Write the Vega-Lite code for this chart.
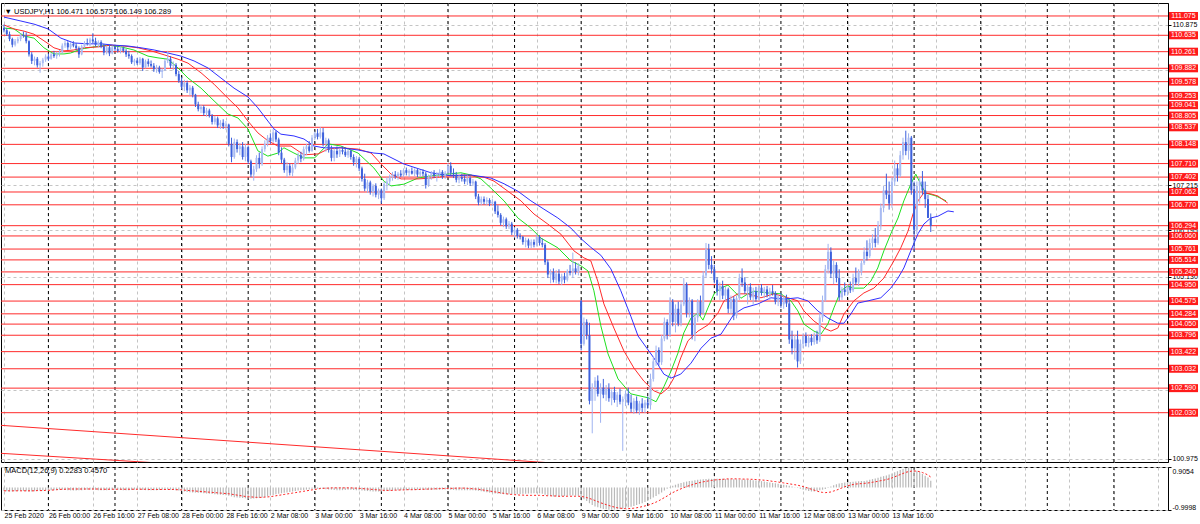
{
"$schema":"https://vega.github.io/schema/vega-lite/v6.json",
"padding":{"left":0,"top":2,"right":0,"bottom":0},
"background":"white",
"spacing":3,
"config":{
 "font":"Liberation Sans",
 "view":{"stroke":"#000","strokeWidth":1},
 "axis":{"title":null,"labelFont":"Liberation Sans","labelFontSize":7,"labelColor":"#000","domainColor":"#000","tickColor":"#000","gridColor":"#c4c4c4","gridDash":[3,3],"gridWidth":1},
 "title":{"font":"Liberation Sans","fontSize":7.5,"fontWeight":"normal","color":"#000"}
},
"datasets":{
"seps":[{"i":16},{"i":40},{"i":64},{"i":88},{"i":112},{"i":136},{"i":160},{"i":184},{"i":208},{"i":232},{"i":256},{"i":280},{"i":304},{"i":328},{"i":352},{"i":376},{"i":400}],
"levels":[{"v":111.075},{"v":110.635},{"v":110.261},{"v":109.882},{"v":109.578},{"v":109.253},{"v":109.041},{"v":108.805},{"v":108.537},{"v":108.148},{"v":107.71},{"v":107.402},{"v":107.062},{"v":106.77},{"v":106.294},{"v":106.06},{"v":105.761},{"v":105.514},{"v":105.24},{"v":104.95},{"v":104.575},{"v":104.284},{"v":104.05},{"v":103.796},{"v":103.422},{"v":103.032},{"v":102.59},{"v":102.03}],
"trend":[{"id":1,"i":-1.08,"v":101.742},{"id":1,"i":196.4,"v":100.889},{"id":2,"i":-1.08,"v":101.104},{"id":2,"i":54.06,"v":100.89}],
"ma":[
{"ma":"g","i":0,"v":110.80},{"ma":"g","i":3.6,"v":110.78},{"ma":"g","i":7.2,"v":110.62},{"ma":"g","i":10.8,"v":110.57},{"ma":"g","i":14.4,"v":110.35},{"ma":"g","i":18,"v":110.21},{"ma":"g","i":21.6,"v":110.21},{"ma":"g","i":24,"v":110.23},{"ma":"g","i":27.7,"v":110.32},{"ma":"g","i":32.4,"v":110.37},{"ma":"g","i":37.5,"v":110.41},{"ma":"g","i":42.2,"v":110.37},{"ma":"g","i":46.8,"v":110.30},{"ma":"g","i":51.9,"v":110.16},{"ma":"g","i":55.5,"v":110.12},{"ma":"g","i":59.1,"v":110.09},{"ma":"g","i":62.7,"v":109.89},{"ma":"g","i":66.3,"v":109.66},{"ma":"g","i":71,"v":109.43},{"ma":"g","i":75.7,"v":109.14},{"ma":"g","i":80.7,"v":108.84},{"ma":"g","i":84.3,"v":108.75},{"ma":"g","i":87.9,"v":108.50},{"ma":"g","i":91.5,"v":108.00},{"ma":"g","i":95.1,"v":107.88},{"ma":"g","i":98.7,"v":107.95},{"ma":"g","i":100.9,"v":108.07},{"ma":"g","i":104.5,"v":107.95},{"ma":"g","i":108.1,"v":107.84},{"ma":"g","i":112,"v":107.84},{"ma":"g","i":116.8,"v":108.16},{"ma":"g","i":121.4,"v":108.11},{"ma":"g","i":127.6,"v":107.95},{"ma":"g","i":133.3,"v":107.61},{"ma":"g","i":136.9,"v":107.31},{"ma":"g","i":139.5,"v":107.20},{"ma":"g","i":144.1,"v":107.24},{"ma":"g","i":149.2,"v":107.38},{"ma":"g","i":153.9,"v":107.43},{"ma":"g","i":160,"v":107.47},{"ma":"g","i":164.7,"v":107.50},{"ma":"g","i":168.3,"v":107.45},{"ma":"g","i":171.9,"v":107.36},{"ma":"g","i":175.5,"v":107.15},{"ma":"g","i":180.2,"v":106.86},{"ma":"g","i":185.2,"v":106.47},{"ma":"g","i":189.9,"v":106.24},{"ma":"g","i":193.5,"v":106.01},{"ma":"g","i":199.6,"v":105.79},{"ma":"g","i":204.3,"v":105.49},{"ma":"g","i":207.9,"v":105.38},{"ma":"g","i":210.5,"v":105.26},{"ma":"g","i":212.6,"v":104.81},{"ma":"g","i":215.1,"v":104.01},{"ma":"g","i":217.7,"v":103.37},{"ma":"g","i":221.3,"v":102.80},{"ma":"g","i":225.9,"v":102.46},{"ma":"g","i":232.1,"v":102.37},{"ma":"g","i":235,"v":102.28},{"ma":"g","i":237.8,"v":102.62},{"ma":"g","i":240.4,"v":102.98},{"ma":"g","i":242.9,"v":103.39},{"ma":"g","i":245,"v":103.85},{"ma":"g","i":247.6,"v":104.19},{"ma":"g","i":250.1,"v":104.30},{"ma":"g","i":251.9,"v":104.14},{"ma":"g","i":253.7,"v":104.42},{"ma":"g","i":255.9,"v":104.74},{"ma":"g","i":258.4,"v":104.87},{"ma":"g","i":260.9,"v":104.94},{"ma":"g","i":263.1,"v":104.80},{"ma":"g","i":265.6,"v":104.64},{"ma":"g","i":268.1,"v":104.74},{"ma":"g","i":270.3,"v":104.80},{"ma":"g","i":275.3,"v":104.76},{"ma":"g","i":280,"v":104.74},{"ma":"g","i":283.6,"v":104.58},{"ma":"g","i":286.1,"v":104.35},{"ma":"g","i":288.3,"v":104.05},{"ma":"g","i":291.9,"v":103.89},{"ma":"g","i":294.4,"v":103.82},{"ma":"g","i":296.9,"v":104.05},{"ma":"g","i":299.1,"v":104.42},{"ma":"g","i":301.6,"v":104.81},{"ma":"g","i":304.1,"v":104.92},{"ma":"g","i":306.3,"v":104.87},{"ma":"g","i":309.9,"v":104.87},{"ma":"g","i":312.4,"v":105.03},{"ma":"g","i":314.9,"v":105.33},{"ma":"g","i":317.1,"v":105.72},{"ma":"g","i":319.6,"v":106.11},{"ma":"g","i":322.2,"v":106.47},{"ma":"g","i":324.3,"v":106.86},{"ma":"g","i":326.8,"v":107.24},{"ma":"g","i":328.6,"v":107.47},{"ma":"g","i":330.4,"v":107.24},{"ma":"g","i":332.1,"v":107.04},{"ma":"g","i":335.9,"v":106.97},{"ma":"g","i":339.5,"v":106.86},
{"ma":"r","i":0,"v":110.87},{"ma":"r","i":3.6,"v":110.78},{"ma":"r","i":7.2,"v":110.73},{"ma":"r","i":10.8,"v":110.66},{"ma":"r","i":14.4,"v":110.51},{"ma":"r","i":18,"v":110.35},{"ma":"r","i":21.6,"v":110.28},{"ma":"r","i":25.2,"v":110.30},{"ma":"r","i":28.8,"v":110.35},{"ma":"r","i":33.9,"v":110.37},{"ma":"r","i":38.6,"v":110.41},{"ma":"r","i":43.2,"v":110.39},{"ma":"r","i":48.3,"v":110.35},{"ma":"r","i":53,"v":110.28},{"ma":"r","i":57.7,"v":110.19},{"ma":"r","i":62.7,"v":110.09},{"ma":"r","i":66.3,"v":110.00},{"ma":"r","i":71,"v":109.78},{"ma":"r","i":75.7,"v":109.52},{"ma":"r","i":80.7,"v":109.20},{"ma":"r","i":84.3,"v":108.98},{"ma":"r","i":87.9,"v":108.68},{"ma":"r","i":91.5,"v":108.41},{"ma":"r","i":95.1,"v":108.23},{"ma":"r","i":98.7,"v":108.11},{"ma":"r","i":103.4,"v":108.11},{"ma":"r","i":108.1,"v":107.91},{"ma":"r","i":113.2,"v":107.93},{"ma":"r","i":116.8,"v":108.04},{"ma":"r","i":121.4,"v":108.07},{"ma":"r","i":127.6,"v":108.04},{"ma":"r","i":132.3,"v":107.95},{"ma":"r","i":135.9,"v":107.70},{"ma":"r","i":139.5,"v":107.47},{"ma":"r","i":143.1,"v":107.36},{"ma":"r","i":149.2,"v":107.36},{"ma":"r","i":153.9,"v":107.38},{"ma":"r","i":160,"v":107.43},{"ma":"r","i":165.8,"v":107.45},{"ma":"r","i":173,"v":107.40},{"ma":"r","i":176.6,"v":107.31},{"ma":"r","i":181.6,"v":107.08},{"ma":"r","i":186.3,"v":106.86},{"ma":"r","i":191,"v":106.56},{"ma":"r","i":196,"v":106.33},{"ma":"r","i":200.7,"v":106.10},{"ma":"r","i":205.4,"v":105.72},{"ma":"r","i":209,"v":105.56},{"ma":"r","i":211.5,"v":105.49},{"ma":"r","i":214,"v":105.03},{"ma":"r","i":216.2,"v":104.51},{"ma":"r","i":219.8,"v":103.96},{"ma":"r","i":223.4,"v":103.44},{"ma":"r","i":227,"v":103.05},{"ma":"r","i":230.6,"v":102.75},{"ma":"r","i":234.2,"v":102.53},{"ma":"r","i":236.8,"v":102.46},{"ma":"r","i":239.3,"v":102.59},{"ma":"r","i":241.4,"v":102.82},{"ma":"r","i":243.9,"v":103.28},{"ma":"r","i":246.5,"v":103.67},{"ma":"r","i":250.1,"v":103.89},{"ma":"r","i":253.7,"v":104.03},{"ma":"r","i":257.3,"v":104.30},{"ma":"r","i":259.5,"v":104.58},{"ma":"r","i":262,"v":104.65},{"ma":"r","i":264.5,"v":104.74},{"ma":"r","i":268.1,"v":104.74},{"ma":"r","i":272.8,"v":104.65},{"ma":"r","i":277.5,"v":104.74},{"ma":"r","i":282.5,"v":104.65},{"ma":"r","i":286.1,"v":104.58},{"ma":"r","i":288.3,"v":104.35},{"ma":"r","i":291.9,"v":104.12},{"ma":"r","i":295.5,"v":103.96},{"ma":"r","i":298,"v":103.89},{"ma":"r","i":300.5,"v":103.96},{"ma":"r","i":302.7,"v":104.28},{"ma":"r","i":306.3,"v":104.58},{"ma":"r","i":309.9,"v":104.76},{"ma":"r","i":313.5,"v":104.87},{"ma":"r","i":317.1,"v":105.10},{"ma":"r","i":320.7,"v":105.49},{"ma":"r","i":323.2,"v":105.79},{"ma":"r","i":325.8,"v":106.17},{"ma":"r","i":327.6,"v":106.56},{"ma":"r","i":329.4,"v":106.86},{"ma":"r","i":331.5,"v":107.04},{"ma":"r","i":334,"v":107.02},{"ma":"r","i":336.6,"v":106.97},{"ma":"r","i":340.1,"v":106.81},
{"ma":"b","i":0,"v":111.05},{"ma":"b","i":6.1,"v":110.96},{"ma":"b","i":10.8,"v":110.89},{"ma":"b","i":15.9,"v":110.78},{"ma":"b","i":20.5,"v":110.57},{"ma":"b","i":25.2,"v":110.46},{"ma":"b","i":30.3,"v":110.44},{"ma":"b","i":35,"v":110.44},{"ma":"b","i":39.6,"v":110.41},{"ma":"b","i":44.7,"v":110.39},{"ma":"b","i":49.4,"v":110.35},{"ma":"b","i":54.1,"v":110.30},{"ma":"b","i":59.1,"v":110.23},{"ma":"b","i":63.8,"v":110.16},{"ma":"b","i":68.5,"v":110.05},{"ma":"b","i":73.5,"v":109.89},{"ma":"b","i":78.2,"v":109.66},{"ma":"b","i":82.9,"v":109.43},{"ma":"b","i":87.9,"v":109.23},{"ma":"b","i":91.5,"v":108.98},{"ma":"b","i":95.1,"v":108.68},{"ma":"b","i":97.3,"v":108.50},{"ma":"b","i":99.8,"v":108.38},{"ma":"b","i":104.5,"v":108.34},{"ma":"b","i":108.1,"v":108.27},{"ma":"b","i":111.7,"v":108.11},{"ma":"b","i":115.3,"v":108.07},{"ma":"b","i":121.4,"v":108.07},{"ma":"b","i":127.6,"v":108.02},{"ma":"b","i":133.3,"v":107.95},{"ma":"b","i":136.9,"v":107.93},{"ma":"b","i":144.1,"v":107.70},{"ma":"b","i":153.9,"v":107.50},{"ma":"b","i":161.1,"v":107.43},{"ma":"b","i":168.3,"v":107.45},{"ma":"b","i":175.5,"v":107.38},{"ma":"b","i":180.2,"v":107.25},{"ma":"b","i":185.2,"v":107.08},{"ma":"b","i":189.9,"v":106.86},{"ma":"b","i":194.6,"v":106.67},{"ma":"b","i":199.6,"v":106.47},{"ma":"b","i":204.3,"v":106.24},{"ma":"b","i":207.9,"v":106.00},{"ma":"b","i":211.5,"v":105.80},{"ma":"b","i":215.1,"v":105.62},{"ma":"b","i":218.7,"v":105.31},{"ma":"b","i":222.3,"v":104.81},{"ma":"b","i":225.9,"v":104.23},{"ma":"b","i":228.5,"v":103.78},{"ma":"b","i":234.2,"v":103.28},{"ma":"b","i":237.8,"v":102.91},{"ma":"b","i":240.4,"v":102.82},{"ma":"b","i":243.9,"v":102.91},{"ma":"b","i":247.6,"v":103.16},{"ma":"b","i":251.2,"v":103.50},{"ma":"b","i":254.8,"v":103.73},{"ma":"b","i":258.4,"v":103.82},{"ma":"b","i":263.1,"v":104.28},{"ma":"b","i":266.7,"v":104.42},{"ma":"b","i":271.7,"v":104.51},{"ma":"b","i":276.4,"v":104.65},{"ma":"b","i":281.1,"v":104.62},{"ma":"b","i":286.1,"v":104.65},{"ma":"b","i":289.7,"v":104.58},{"ma":"b","i":293.3,"v":104.35},{"ma":"b","i":296.9,"v":104.19},{"ma":"b","i":300.5,"v":104.07},{"ma":"b","i":302.7,"v":104.07},{"ma":"b","i":305.2,"v":104.28},{"ma":"b","i":307.7,"v":104.53},{"ma":"b","i":311.4,"v":104.58},{"ma":"b","i":316,"v":104.65},{"ma":"b","i":319.6,"v":104.87},{"ma":"b","i":322.2,"v":105.10},{"ma":"b","i":324.3,"v":105.33},{"ma":"b","i":326.8,"v":105.72},{"ma":"b","i":329.4,"v":106.11},{"ma":"b","i":331.5,"v":106.33},{"ma":"b","i":334,"v":106.47},{"ma":"b","i":336.6,"v":106.51},{"ma":"b","i":340.2,"v":106.63},{"ma":"b","i":342.3,"v":106.61}
],
"bars":[
{"i":0,"o":110.80,"h":110.88,"l":110.70,"c":110.75,"m":-0.16,"s":-0.15},
{"i":1,"o":110.75,"h":110.80,"l":110.62,"c":110.66,"m":-0.17,"s":-0.15},
{"i":2,"o":110.66,"h":110.72,"l":110.50,"c":110.55,"m":-0.18,"s":-0.15},
{"i":3,"o":110.55,"h":110.58,"l":110.36,"c":110.42,"m":-0.18,"s":-0.15},
{"i":4,"o":110.42,"h":110.55,"l":110.38,"c":110.50,"m":-0.17,"s":-0.15},
{"i":5,"o":110.50,"h":110.60,"l":110.45,"c":110.55,"m":-0.16,"s":-0.15},
{"i":6,"o":110.55,"h":110.68,"l":110.50,"c":110.64,"m":-0.15,"s":-0.15},
{"i":7,"o":110.64,"h":110.72,"l":110.58,"c":110.62,"m":-0.16,"s":-0.15},
{"i":8,"o":110.62,"h":110.70,"l":110.45,"c":110.50,"m":-0.17,"s":-0.15},
{"i":9,"o":110.50,"h":110.52,"l":110.15,"c":110.20,"m":-0.18,"s":-0.15},
{"i":10,"o":110.20,"h":110.25,"l":109.98,"c":110.05,"m":-0.18,"s":-0.15},
{"i":11,"o":110.05,"h":110.15,"l":109.95,"c":110.10,"m":-0.17,"s":-0.15},
{"i":12,"o":110.10,"h":110.14,"l":109.90,"c":109.95,"m":-0.16,"s":-0.14},
{"i":13,"o":109.95,"h":110.05,"l":109.78,"c":110.00,"m":-0.15,"s":-0.14},
{"i":14,"o":110.00,"h":110.12,"l":109.92,"c":110.08,"m":-0.14,"s":-0.14},
{"i":15,"o":110.08,"h":110.20,"l":110.03,"c":110.15,"m":-0.14,"s":-0.13},
{"i":16,"o":110.15,"h":110.22,"l":110.05,"c":110.10,"m":-0.13,"s":-0.13},
{"i":17,"o":110.10,"h":110.24,"l":110.08,"c":110.20,"m":-0.12,"s":-0.12},
{"i":18,"o":110.20,"h":110.28,"l":110.12,"c":110.16,"m":-0.12,"s":-0.11},
{"i":19,"o":110.16,"h":110.26,"l":110.10,"c":110.22,"m":-0.11,"s":-0.10},
{"i":20,"o":110.22,"h":110.30,"l":110.15,"c":110.25,"m":-0.10,"s":-0.09},
{"i":21,"o":110.25,"h":110.45,"l":110.22,"c":110.40,"m":-0.10,"s":-0.08},
{"i":22,"o":110.40,"h":110.52,"l":110.35,"c":110.46,"m":-0.11,"s":-0.08},
{"i":23,"o":110.46,"h":110.50,"l":110.30,"c":110.36,"m":-0.12,"s":-0.07},
{"i":24,"o":110.36,"h":110.48,"l":110.32,"c":110.44,"m":-0.13,"s":-0.07},
{"i":25,"o":110.44,"h":110.50,"l":110.36,"c":110.40,"m":-0.14,"s":-0.07},
{"i":26,"o":110.40,"h":110.46,"l":110.30,"c":110.34,"m":-0.14,"s":-0.07},
{"i":27,"o":110.34,"h":110.38,"l":110.12,"c":110.20,"m":-0.13,"s":-0.07},
{"i":28,"o":110.20,"h":110.42,"l":110.18,"c":110.38,"m":-0.12,"s":-0.07},
{"i":29,"o":110.38,"h":110.50,"l":110.34,"c":110.46,"m":-0.11,"s":-0.07},
{"i":30,"o":110.46,"h":110.56,"l":110.40,"c":110.44,"m":-0.10,"s":-0.07},
{"i":31,"o":110.44,"h":110.58,"l":110.38,"c":110.54,"m":-0.10,"s":-0.07},
{"i":32,"o":110.54,"h":110.68,"l":110.46,"c":110.50,"m":-0.10,"s":-0.07},
{"i":33,"o":110.50,"h":110.58,"l":110.38,"c":110.42,"m":-0.11,"s":-0.07},
{"i":34,"o":110.42,"h":110.52,"l":110.36,"c":110.48,"m":-0.12,"s":-0.07},
{"i":35,"o":110.48,"h":110.52,"l":110.34,"c":110.38,"m":-0.12,"s":-0.08},
{"i":36,"o":110.38,"h":110.44,"l":110.18,"c":110.24,"m":-0.12,"s":-0.08},
{"i":37,"o":110.24,"h":110.40,"l":110.20,"c":110.36,"m":-0.12,"s":-0.08},
{"i":38,"o":110.36,"h":110.42,"l":110.16,"c":110.22,"m":-0.11,"s":-0.08},
{"i":39,"o":110.22,"h":110.40,"l":110.20,"c":110.36,"m":-0.10,"s":-0.08},
{"i":40,"o":110.36,"h":110.42,"l":110.28,"c":110.32,"m":-0.10,"s":-0.08},
{"i":41,"o":110.32,"h":110.40,"l":110.24,"c":110.28,"m":-0.10,"s":-0.08},
{"i":42,"o":110.28,"h":110.38,"l":110.22,"c":110.34,"m":-0.11,"s":-0.08},
{"i":43,"o":110.34,"h":110.38,"l":110.24,"c":110.28,"m":-0.12,"s":-0.08},
{"i":44,"o":110.28,"h":110.32,"l":110.14,"c":110.20,"m":-0.12,"s":-0.08},
{"i":45,"o":110.20,"h":110.28,"l":110.10,"c":110.16,"m":-0.12,"s":-0.08},
{"i":46,"o":110.16,"h":110.20,"l":109.98,"c":110.02,"m":-0.11,"s":-0.08},
{"i":47,"o":110.02,"h":110.10,"l":109.94,"c":110.06,"m":-0.10,"s":-0.08},
{"i":48,"o":110.06,"h":110.12,"l":109.96,"c":110.00,"m":-0.10,"s":-0.08},
{"i":49,"o":110.00,"h":110.14,"l":109.96,"c":110.10,"m":-0.10,"s":-0.08},
{"i":50,"o":110.10,"h":110.12,"l":109.82,"c":109.90,"m":-0.11,"s":-0.08},
{"i":51,"o":109.90,"h":110.08,"l":109.88,"c":110.04,"m":-0.12,"s":-0.08},
{"i":52,"o":110.04,"h":110.10,"l":109.92,"c":109.98,"m":-0.12,"s":-0.09},
{"i":53,"o":109.98,"h":110.06,"l":109.90,"c":109.94,"m":-0.13,"s":-0.09},
{"i":54,"o":109.94,"h":110.00,"l":109.80,"c":109.86,"m":-0.13,"s":-0.09},
{"i":55,"o":109.86,"h":109.96,"l":109.78,"c":109.90,"m":-0.12,"s":-0.09},
{"i":56,"o":109.90,"h":109.94,"l":109.76,"c":109.80,"m":-0.11,"s":-0.09},
{"i":57,"o":109.80,"h":109.88,"l":109.66,"c":109.84,"m":-0.10,"s":-0.09},
{"i":58,"o":109.84,"h":110.10,"l":109.82,"c":110.05,"m":-0.09,"s":-0.09},
{"i":59,"o":110.05,"h":110.28,"l":110.00,"c":110.10,"m":-0.09,"s":-0.09},
{"i":60,"o":110.10,"h":110.16,"l":109.88,"c":109.94,"m":-0.10,"s":-0.09},
{"i":61,"o":109.94,"h":110.04,"l":109.84,"c":109.96,"m":-0.11,"s":-0.09},
{"i":62,"o":109.96,"h":110.00,"l":109.70,"c":109.75,"m":-0.12,"s":-0.10},
{"i":63,"o":109.75,"h":109.82,"l":109.55,"c":109.60,"m":-0.14,"s":-0.10},
{"i":64,"o":109.60,"h":109.68,"l":109.40,"c":109.46,"m":-0.16,"s":-0.11},
{"i":65,"o":109.46,"h":109.62,"l":109.36,"c":109.55,"m":-0.18,"s":-0.12},
{"i":66,"o":109.55,"h":109.60,"l":109.32,"c":109.38,"m":-0.20,"s":-0.13},
{"i":67,"o":109.38,"h":109.50,"l":109.26,"c":109.44,"m":-0.21,"s":-0.14},
{"i":68,"o":109.44,"h":109.48,"l":109.22,"c":109.28,"m":-0.22,"s":-0.15},
{"i":69,"o":109.28,"h":109.30,"l":109.00,"c":109.06,"m":-0.23,"s":-0.16},
{"i":70,"o":109.06,"h":109.12,"l":108.90,"c":108.95,"m":-0.24,"s":-0.17},
{"i":71,"o":108.95,"h":109.05,"l":108.86,"c":109.00,"m":-0.25,"s":-0.18},
{"i":72,"o":109.00,"h":109.04,"l":108.80,"c":108.86,"m":-0.26,"s":-0.19},
{"i":73,"o":108.86,"h":108.98,"l":108.78,"c":108.92,"m":-0.27,"s":-0.20},
{"i":74,"o":108.92,"h":108.96,"l":108.76,"c":108.80,"m":-0.28,"s":-0.21},
{"i":75,"o":108.80,"h":108.84,"l":108.60,"c":108.66,"m":-0.29,"s":-0.22},
{"i":76,"o":108.66,"h":108.80,"l":108.60,"c":108.74,"m":-0.30,"s":-0.23},
{"i":77,"o":108.74,"h":108.78,"l":108.52,"c":108.58,"m":-0.31,"s":-0.24},
{"i":78,"o":108.58,"h":108.70,"l":108.50,"c":108.64,"m":-0.32,"s":-0.25},
{"i":79,"o":108.64,"h":108.72,"l":108.50,"c":108.56,"m":-0.33,"s":-0.26},
{"i":80,"o":108.56,"h":108.68,"l":108.48,"c":108.60,"m":-0.35,"s":-0.27},
{"i":81,"o":108.60,"h":108.62,"l":108.10,"c":108.16,"m":-0.37,"s":-0.28},
{"i":82,"o":108.16,"h":108.30,"l":107.74,"c":107.86,"m":-0.40,"s":-0.30},
{"i":83,"o":107.86,"h":108.28,"l":107.82,"c":108.20,"m":-0.43,"s":-0.32},
{"i":84,"o":108.20,"h":108.26,"l":107.96,"c":108.04,"m":-0.45,"s":-0.34},
{"i":85,"o":108.04,"h":108.18,"l":107.90,"c":108.10,"m":-0.46,"s":-0.36},
{"i":86,"o":108.10,"h":108.20,"l":107.80,"c":107.86,"m":-0.47,"s":-0.38},
{"i":87,"o":107.86,"h":108.16,"l":107.76,"c":108.08,"m":-0.48,"s":-0.40},
{"i":88,"o":108.08,"h":108.12,"l":107.70,"c":107.76,"m":-0.50,"s":-0.41},
{"i":89,"o":107.76,"h":107.80,"l":107.40,"c":107.46,"m":-0.50,"s":-0.42},
{"i":90,"o":107.46,"h":107.66,"l":107.32,"c":107.58,"m":-0.49,"s":-0.43},
{"i":91,"o":107.58,"h":107.90,"l":107.52,"c":107.84,"m":-0.48,"s":-0.44},
{"i":92,"o":107.84,"h":107.96,"l":107.60,"c":107.70,"m":-0.47,"s":-0.44},
{"i":93,"o":107.70,"h":108.10,"l":107.66,"c":108.04,"m":-0.45,"s":-0.44},
{"i":94,"o":108.04,"h":108.24,"l":107.98,"c":108.16,"m":-0.42,"s":-0.43},
{"i":95,"o":108.16,"h":108.36,"l":108.10,"c":108.30,"m":-0.39,"s":-0.42},
{"i":96,"o":108.30,"h":108.40,"l":108.16,"c":108.22,"m":-0.36,"s":-0.41},
{"i":97,"o":108.22,"h":108.50,"l":108.18,"c":108.42,"m":-0.33,"s":-0.39},
{"i":98,"o":108.42,"h":108.46,"l":108.20,"c":108.26,"m":-0.30,"s":-0.37},
{"i":99,"o":108.26,"h":108.30,"l":107.90,"c":107.96,"m":-0.28,"s":-0.35},
{"i":100,"o":107.96,"h":108.08,"l":107.72,"c":107.80,"m":-0.26,"s":-0.33},
{"i":101,"o":107.80,"h":107.84,"l":107.50,"c":107.56,"m":-0.24,"s":-0.31},
{"i":102,"o":107.56,"h":107.74,"l":107.40,"c":107.66,"m":-0.22,"s":-0.29},
{"i":103,"o":107.66,"h":107.72,"l":107.44,"c":107.50,"m":-0.20,"s":-0.27},
{"i":104,"o":107.50,"h":107.70,"l":107.42,"c":107.62,"m":-0.18,"s":-0.25},
{"i":105,"o":107.62,"h":107.84,"l":107.58,"c":107.78,"m":-0.16,"s":-0.23},
{"i":106,"o":107.78,"h":107.96,"l":107.70,"c":107.90,"m":-0.14,"s":-0.21},
{"i":107,"o":107.90,"h":107.98,"l":107.74,"c":107.82,"m":-0.12,"s":-0.19},
{"i":108,"o":107.82,"h":108.10,"l":107.78,"c":108.04,"m":-0.11,"s":-0.17},
{"i":109,"o":108.04,"h":108.16,"l":107.90,"c":108.10,"m":-0.10,"s":-0.15},
{"i":110,"o":108.10,"h":108.22,"l":107.96,"c":108.00,"m":-0.09,"s":-0.13},
{"i":111,"o":108.00,"h":108.36,"l":107.98,"c":108.30,"m":-0.08,"s":-0.11},
{"i":112,"o":108.30,"h":108.44,"l":108.24,"c":108.40,"m":-0.07,"s":-0.09},
{"i":113,"o":108.40,"h":108.50,"l":108.26,"c":108.32,"m":-0.06,"s":-0.07},
{"i":114,"o":108.32,"h":108.54,"l":108.28,"c":108.42,"m":-0.06,"s":-0.05},
{"i":115,"o":108.42,"h":108.52,"l":108.10,"c":108.16,"m":-0.07,"s":-0.04},
{"i":116,"o":108.16,"h":108.30,"l":107.98,"c":108.24,"m":-0.08,"s":-0.03},
{"i":117,"o":108.24,"h":108.28,"l":107.96,"c":108.02,"m":-0.09,"s":-0.03},
{"i":118,"o":108.02,"h":108.12,"l":107.76,"c":107.84,"m":-0.10,"s":-0.02},
{"i":119,"o":107.84,"h":108.06,"l":107.76,"c":108.00,"m":-0.11,"s":-0.02},
{"i":120,"o":108.00,"h":108.10,"l":107.84,"c":107.92,"m":-0.12,"s":-0.02},
{"i":121,"o":107.92,"h":108.06,"l":107.86,"c":108.02,"m":-0.12,"s":-0.02},
{"i":122,"o":108.02,"h":108.10,"l":107.92,"c":107.98,"m":-0.12,"s":-0.02},
{"i":123,"o":107.98,"h":108.08,"l":107.86,"c":107.90,"m":-0.11,"s":-0.02},
{"i":124,"o":107.90,"h":108.04,"l":107.84,"c":108.00,"m":-0.10,"s":-0.02},
{"i":125,"o":108.00,"h":108.04,"l":107.80,"c":107.86,"m":-0.10,"s":-0.02},
{"i":126,"o":107.86,"h":107.92,"l":107.66,"c":107.74,"m":-0.11,"s":-0.03},
{"i":127,"o":107.74,"h":107.88,"l":107.62,"c":107.82,"m":-0.12,"s":-0.03},
{"i":128,"o":107.82,"h":107.86,"l":107.54,"c":107.60,"m":-0.13,"s":-0.04},
{"i":129,"o":107.60,"h":107.64,"l":107.30,"c":107.36,"m":-0.14,"s":-0.05},
{"i":130,"o":107.36,"h":107.48,"l":107.08,"c":107.14,"m":-0.15,"s":-0.06},
{"i":131,"o":107.14,"h":107.34,"l":107.04,"c":107.28,"m":-0.16,"s":-0.07},
{"i":132,"o":107.28,"h":107.32,"l":107.00,"c":107.06,"m":-0.17,"s":-0.08},
{"i":133,"o":107.06,"h":107.24,"l":106.96,"c":107.20,"m":-0.18,"s":-0.09},
{"i":134,"o":107.20,"h":107.26,"l":106.94,"c":107.00,"m":-0.18,"s":-0.10},
{"i":135,"o":107.00,"h":107.14,"l":106.90,"c":107.10,"m":-0.18,"s":-0.11},
{"i":136,"o":107.10,"h":107.14,"l":106.80,"c":106.92,"m":-0.18,"s":-0.12},
{"i":137,"o":106.92,"h":107.30,"l":106.88,"c":107.24,"m":-0.17,"s":-0.13},
{"i":138,"o":107.24,"h":107.40,"l":107.10,"c":107.30,"m":-0.16,"s":-0.13},
{"i":139,"o":107.30,"h":107.46,"l":107.20,"c":107.40,"m":-0.15,"s":-0.13},
{"i":140,"o":107.40,"h":107.52,"l":107.32,"c":107.46,"m":-0.14,"s":-0.13},
{"i":141,"o":107.46,"h":107.54,"l":107.36,"c":107.42,"m":-0.13,"s":-0.12},
{"i":142,"o":107.42,"h":107.52,"l":107.34,"c":107.48,"m":-0.12,"s":-0.12},
{"i":143,"o":107.48,"h":107.56,"l":107.40,"c":107.44,"m":-0.12,"s":-0.11},
{"i":144,"o":107.44,"h":107.60,"l":107.40,"c":107.56,"m":-0.12,"s":-0.11},
{"i":145,"o":107.56,"h":107.62,"l":107.44,"c":107.50,"m":-0.12,"s":-0.10},
{"i":146,"o":107.50,"h":107.58,"l":107.40,"c":107.54,"m":-0.11,"s":-0.10},
{"i":147,"o":107.54,"h":107.62,"l":107.46,"c":107.48,"m":-0.11,"s":-0.10},
{"i":148,"o":107.48,"h":107.60,"l":107.42,"c":107.56,"m":-0.10,"s":-0.10},
{"i":149,"o":107.56,"h":107.60,"l":107.40,"c":107.46,"m":-0.10,"s":-0.09},
{"i":150,"o":107.46,"h":107.56,"l":107.40,"c":107.52,"m":-0.10,"s":-0.09},
{"i":151,"o":107.52,"h":107.58,"l":107.42,"c":107.48,"m":-0.10,"s":-0.08},
{"i":152,"o":107.48,"h":107.52,"l":107.14,"c":107.22,"m":-0.10,"s":-0.08},
{"i":153,"o":107.22,"h":107.46,"l":107.18,"c":107.42,"m":-0.11,"s":-0.07},
{"i":154,"o":107.42,"h":107.54,"l":107.34,"c":107.50,"m":-0.11,"s":-0.07},
{"i":155,"o":107.50,"h":107.56,"l":107.38,"c":107.44,"m":-0.10,"s":-0.06},
{"i":156,"o":107.44,"h":107.52,"l":107.30,"c":107.48,"m":-0.10,"s":-0.06},
{"i":157,"o":107.48,"h":107.58,"l":107.40,"c":107.52,"m":-0.10,"s":-0.05},
{"i":158,"o":107.52,"h":107.56,"l":107.36,"c":107.42,"m":-0.09,"s":-0.05},
{"i":159,"o":107.42,"h":107.54,"l":107.36,"c":107.50,"m":-0.09,"s":-0.05},
{"i":160,"o":107.50,"h":107.72,"l":107.46,"c":107.66,"m":-0.09,"s":-0.04},
{"i":161,"o":107.66,"h":107.74,"l":107.44,"c":107.50,"m":-0.10,"s":-0.04},
{"i":162,"o":107.50,"h":107.60,"l":107.38,"c":107.46,"m":-0.11,"s":-0.04},
{"i":163,"o":107.46,"h":107.52,"l":107.28,"c":107.34,"m":-0.12,"s":-0.03},
{"i":164,"o":107.34,"h":107.46,"l":107.26,"c":107.40,"m":-0.12,"s":-0.03},
{"i":165,"o":107.40,"h":107.48,"l":107.30,"c":107.36,"m":-0.12,"s":-0.03},
{"i":166,"o":107.36,"h":107.46,"l":107.24,"c":107.30,"m":-0.12,"s":-0.03},
{"i":167,"o":107.30,"h":107.44,"l":107.22,"c":107.38,"m":-0.12,"s":-0.04},
{"i":168,"o":107.38,"h":107.42,"l":107.20,"c":107.26,"m":-0.12,"s":-0.05},
{"i":169,"o":107.26,"h":107.36,"l":107.20,"c":107.30,"m":-0.13,"s":-0.06},
{"i":170,"o":107.30,"h":107.32,"l":106.90,"c":106.96,"m":-0.14,"s":-0.07},
{"i":171,"o":106.96,"h":107.02,"l":106.76,"c":106.82,"m":-0.15,"s":-0.08},
{"i":172,"o":106.82,"h":106.96,"l":106.76,"c":106.90,"m":-0.17,"s":-0.10},
{"i":173,"o":106.90,"h":106.96,"l":106.78,"c":106.84,"m":-0.19,"s":-0.12},
{"i":174,"o":106.84,"h":106.94,"l":106.76,"c":106.88,"m":-0.21,"s":-0.14},
{"i":175,"o":106.88,"h":106.92,"l":106.74,"c":106.80,"m":-0.23,"s":-0.16},
{"i":176,"o":106.80,"h":106.90,"l":106.74,"c":106.84,"m":-0.25,"s":-0.18},
{"i":177,"o":106.84,"h":106.86,"l":106.56,"c":106.62,"m":-0.27,"s":-0.20},
{"i":178,"o":106.62,"h":106.76,"l":106.48,"c":106.54,"m":-0.28,"s":-0.22},
{"i":179,"o":106.54,"h":106.58,"l":106.30,"c":106.36,"m":-0.29,"s":-0.24},
{"i":180,"o":106.36,"h":106.50,"l":106.26,"c":106.44,"m":-0.30,"s":-0.26},
{"i":181,"o":106.44,"h":106.48,"l":106.22,"c":106.28,"m":-0.30,"s":-0.28},
{"i":182,"o":106.28,"h":106.40,"l":106.22,"c":106.34,"m":-0.30,"s":-0.30},
{"i":183,"o":106.34,"h":106.38,"l":106.08,"c":106.14,"m":-0.30,"s":-0.31},
{"i":184,"o":106.14,"h":106.26,"l":106.02,"c":106.20,"m":-0.30,"s":-0.32},
{"i":185,"o":106.20,"h":106.24,"l":106.00,"c":106.06,"m":-0.30,"s":-0.33},
{"i":186,"o":106.06,"h":106.12,"l":105.98,"c":106.04,"m":-0.29,"s":-0.34},
{"i":187,"o":106.04,"h":106.06,"l":105.86,"c":105.92,"m":-0.28,"s":-0.34},
{"i":188,"o":105.92,"h":106.02,"l":105.80,"c":105.96,"m":-0.28,"s":-0.35},
{"i":189,"o":105.96,"h":106.00,"l":105.78,"c":105.84,"m":-0.27,"s":-0.35},
{"i":190,"o":105.84,"h":105.98,"l":105.78,"c":105.92,"m":-0.27,"s":-0.35},
{"i":191,"o":105.92,"h":105.98,"l":105.80,"c":105.86,"m":-0.26,"s":-0.35},
{"i":192,"o":105.86,"h":106.10,"l":105.82,"c":106.04,"m":-0.26,"s":-0.35},
{"i":193,"o":106.04,"h":106.08,"l":105.84,"c":105.90,"m":-0.26,"s":-0.35},
{"i":194,"o":105.90,"h":106.00,"l":105.80,"c":105.86,"m":-0.28,"s":-0.36},
{"i":195,"o":105.86,"h":105.90,"l":105.40,"c":105.46,"m":-0.32,"s":-0.36},
{"i":196,"o":105.46,"h":105.52,"l":105.10,"c":105.18,"m":-0.36,"s":-0.37},
{"i":197,"o":105.18,"h":105.30,"l":104.98,"c":105.24,"m":-0.38,"s":-0.37},
{"i":198,"o":105.24,"h":105.32,"l":105.00,"c":105.06,"m":-0.40,"s":-0.38},
{"i":199,"o":105.06,"h":105.28,"l":104.98,"c":105.20,"m":-0.40,"s":-0.38},
{"i":200,"o":105.20,"h":105.30,"l":104.96,"c":105.02,"m":-0.40,"s":-0.39},
{"i":201,"o":105.02,"h":105.20,"l":104.94,"c":105.14,"m":-0.39,"s":-0.39},
{"i":202,"o":105.14,"h":105.22,"l":104.98,"c":105.06,"m":-0.38,"s":-0.39},
{"i":203,"o":105.06,"h":105.30,"l":105.02,"c":105.26,"m":-0.37,"s":-0.39},
{"i":204,"o":105.26,"h":105.40,"l":105.16,"c":105.22,"m":-0.36,"s":-0.39},
{"i":205,"o":105.22,"h":105.68,"l":105.10,"c":105.32,"m":-0.36,"s":-0.39},
{"i":206,"o":105.32,"h":105.46,"l":105.18,"c":105.24,"m":-0.36,"s":-0.39},
{"i":207,"o":105.24,"h":105.44,"l":105.16,"c":105.38,"m":-0.37,"s":-0.39},
{"i":208,"o":104.58,"h":104.60,"l":103.45,"c":103.60,"m":-0.45,"s":-0.40},
{"i":209,"o":103.60,"h":104.20,"l":103.56,"c":104.10,"m":-0.52,"s":-0.42},
{"i":210,"o":104.10,"h":104.16,"l":103.70,"c":103.80,"m":-0.60,"s":-0.45},
{"i":211,"o":103.80,"h":104.08,"l":102.22,"c":102.30,"m":-0.70,"s":-0.49},
{"i":212,"o":102.30,"h":102.70,"l":101.56,"c":102.60,"m":-0.78,"s":-0.53},
{"i":213,"o":102.60,"h":102.84,"l":102.30,"c":102.76,"m":-0.84,"s":-0.58},
{"i":214,"o":102.76,"h":102.88,"l":102.40,"c":102.46,"m":-0.88,"s":-0.63},
{"i":215,"o":102.46,"h":102.70,"l":101.80,"c":102.60,"m":-0.92,"s":-0.68},
{"i":216,"o":102.60,"h":102.80,"l":102.36,"c":102.44,"m":-0.95,"s":-0.72},
{"i":217,"o":102.44,"h":102.66,"l":102.30,"c":102.58,"m":-0.97,"s":-0.76},
{"i":218,"o":102.58,"h":102.70,"l":102.28,"c":102.36,"m":-0.99,"s":-0.80},
{"i":219,"o":102.36,"h":102.56,"l":102.20,"c":102.50,"m":-0.99,"s":-0.84},
{"i":220,"o":102.50,"h":102.62,"l":102.26,"c":102.32,"m":-0.98,"s":-0.87},
{"i":221,"o":102.32,"h":102.50,"l":102.16,"c":102.44,"m":-0.97,"s":-0.90},
{"i":222,"o":102.44,"h":102.58,"l":102.22,"c":102.28,"m":-0.96,"s":-0.92},
{"i":223,"o":102.28,"h":102.40,"l":101.16,"c":102.34,"m":-0.94,"s":-0.93},
{"i":224,"o":102.34,"h":102.54,"l":102.18,"c":102.46,"m":-0.92,"s":-0.94},
{"i":225,"o":102.46,"h":102.60,"l":102.20,"c":102.26,"m":-0.89,"s":-0.94},
{"i":226,"o":102.26,"h":102.44,"l":102.04,"c":102.12,"m":-0.86,"s":-0.93},
{"i":227,"o":102.12,"h":102.36,"l":102.00,"c":102.30,"m":-0.82,"s":-0.92},
{"i":228,"o":102.30,"h":102.40,"l":102.02,"c":102.08,"m":-0.78,"s":-0.90},
{"i":229,"o":102.08,"h":102.30,"l":101.98,"c":102.24,"m":-0.74,"s":-0.88},
{"i":230,"o":102.24,"h":102.36,"l":102.04,"c":102.14,"m":-0.70,"s":-0.85},
{"i":231,"o":102.14,"h":102.32,"l":102.02,"c":102.26,"m":-0.65,"s":-0.82},
{"i":232,"o":102.26,"h":102.40,"l":102.12,"c":102.20,"m":-0.60,"s":-0.79},
{"i":233,"o":102.20,"h":102.92,"l":102.10,"c":102.80,"m":-0.52,"s":-0.75},
{"i":234,"o":102.80,"h":103.30,"l":102.74,"c":103.20,"m":-0.45,"s":-0.70},
{"i":235,"o":103.20,"h":103.56,"l":103.10,"c":103.46,"m":-0.38,"s":-0.65},
{"i":236,"o":103.46,"h":103.52,"l":103.10,"c":103.18,"m":-0.30,"s":-0.59},
{"i":237,"o":103.18,"h":103.80,"l":103.12,"c":103.72,"m":-0.22,"s":-0.52},
{"i":238,"o":103.72,"h":104.20,"l":103.66,"c":104.10,"m":-0.14,"s":-0.45},
{"i":239,"o":104.10,"h":104.16,"l":103.70,"c":103.80,"m":-0.06,"s":-0.38},
{"i":240,"o":103.80,"h":104.66,"l":103.76,"c":104.56,"m":0.02,"s":-0.30},
{"i":241,"o":104.56,"h":104.62,"l":104.00,"c":104.10,"m":0.08,"s":-0.23},
{"i":242,"o":104.10,"h":104.50,"l":103.86,"c":104.40,"m":0.12,"s":-0.17},
{"i":243,"o":104.40,"h":104.56,"l":104.00,"c":104.06,"m":0.16,"s":-0.11},
{"i":244,"o":104.06,"h":104.60,"l":104.00,"c":104.50,"m":0.20,"s":-0.06},
{"i":245,"o":104.50,"h":105.10,"l":104.46,"c":104.96,"m":0.23,"s":-0.01},
{"i":246,"o":104.96,"h":105.00,"l":104.20,"c":104.30,"m":0.26,"s":0.04},
{"i":247,"o":104.30,"h":104.66,"l":104.20,"c":104.58,"m":0.28,"s":0.08},
{"i":248,"o":104.58,"h":104.62,"l":103.70,"c":103.80,"m":0.30,"s":0.12},
{"i":249,"o":103.80,"h":104.30,"l":103.66,"c":104.20,"m":0.32,"s":0.16},
{"i":250,"o":104.20,"h":104.62,"l":104.10,"c":104.56,"m":0.34,"s":0.19},
{"i":251,"o":104.56,"h":104.70,"l":104.24,"c":104.30,"m":0.35,"s":0.22},
{"i":252,"o":104.30,"h":105.26,"l":104.26,"c":105.16,"m":0.36,"s":0.25},
{"i":253,"o":105.16,"h":105.90,"l":105.10,"c":105.76,"m":0.37,"s":0.27},
{"i":254,"o":105.76,"h":105.88,"l":105.30,"c":105.40,"m":0.38,"s":0.29},
{"i":255,"o":105.40,"h":105.60,"l":105.20,"c":105.30,"m":0.38,"s":0.31},
{"i":256,"o":105.30,"h":105.40,"l":104.98,"c":105.06,"m":0.38,"s":0.33},
{"i":257,"o":105.06,"h":105.12,"l":104.70,"c":104.80,"m":0.38,"s":0.34},
{"i":258,"o":104.80,"h":105.00,"l":104.60,"c":104.92,"m":0.38,"s":0.35},
{"i":259,"o":104.92,"h":105.04,"l":104.62,"c":104.70,"m":0.38,"s":0.36},
{"i":260,"o":104.70,"h":104.90,"l":104.58,"c":104.84,"m":0.37,"s":0.37},
{"i":261,"o":104.84,"h":104.88,"l":104.30,"c":104.40,"m":0.37,"s":0.38},
{"i":262,"o":104.40,"h":104.70,"l":104.28,"c":104.62,"m":0.36,"s":0.38},
{"i":263,"o":104.62,"h":104.68,"l":104.14,"c":104.24,"m":0.36,"s":0.38},
{"i":264,"o":104.24,"h":104.70,"l":104.18,"c":104.64,"m":0.36,"s":0.38},
{"i":265,"o":104.64,"h":105.20,"l":104.60,"c":105.10,"m":0.35,"s":0.38},
{"i":266,"o":105.10,"h":105.32,"l":104.90,"c":105.00,"m":0.35,"s":0.37},
{"i":267,"o":105.00,"h":105.12,"l":104.74,"c":104.80,"m":0.35,"s":0.37},
{"i":268,"o":104.80,"h":104.96,"l":104.50,"c":104.90,"m":0.34,"s":0.37},
{"i":269,"o":104.90,"h":104.98,"l":104.60,"c":104.66,"m":0.33,"s":0.36},
{"i":270,"o":104.66,"h":104.88,"l":104.48,"c":104.80,"m":0.32,"s":0.36},
{"i":271,"o":104.80,"h":104.90,"l":104.56,"c":104.62,"m":0.31,"s":0.35},
{"i":272,"o":104.62,"h":104.94,"l":104.58,"c":104.88,"m":0.30,"s":0.34},
{"i":273,"o":104.88,"h":104.96,"l":104.70,"c":104.76,"m":0.28,"s":0.33},
{"i":274,"o":104.76,"h":104.90,"l":104.64,"c":104.84,"m":0.26,"s":0.32},
{"i":275,"o":104.84,"h":104.92,"l":104.66,"c":104.72,"m":0.24,"s":0.31},
{"i":276,"o":104.72,"h":104.88,"l":104.60,"c":104.80,"m":0.22,"s":0.29},
{"i":277,"o":104.80,"h":104.94,"l":104.70,"c":104.76,"m":0.20,"s":0.27},
{"i":278,"o":104.76,"h":104.80,"l":104.50,"c":104.56,"m":0.18,"s":0.26},
{"i":279,"o":104.56,"h":104.72,"l":104.46,"c":104.68,"m":0.16,"s":0.24},
{"i":280,"o":104.68,"h":104.76,"l":104.42,"c":104.50,"m":0.14,"s":0.22},
{"i":281,"o":104.50,"h":104.70,"l":104.40,"c":104.64,"m":0.12,"s":0.20},
{"i":282,"o":104.64,"h":104.72,"l":104.44,"c":104.52,"m":0.10,"s":0.18},
{"i":283,"o":104.52,"h":104.60,"l":103.60,"c":103.70,"m":0.07,"s":0.16},
{"i":284,"o":103.70,"h":103.90,"l":103.36,"c":103.50,"m":0.04,"s":0.14},
{"i":285,"o":103.50,"h":103.80,"l":103.24,"c":103.70,"m":0.01,"s":0.12},
{"i":286,"o":103.70,"h":103.90,"l":103.06,"c":103.20,"m":-0.02,"s":0.10},
{"i":287,"o":103.20,"h":103.70,"l":103.14,"c":103.60,"m":-0.06,"s":0.07},
{"i":288,"o":103.60,"h":103.84,"l":103.50,"c":103.78,"m":-0.10,"s":0.04},
{"i":289,"o":103.78,"h":103.86,"l":103.54,"c":103.62,"m":-0.13,"s":0.00},
{"i":290,"o":103.62,"h":103.80,"l":103.52,"c":103.74,"m":-0.16,"s":-0.04},
{"i":291,"o":103.74,"h":103.82,"l":103.56,"c":103.64,"m":-0.18,"s":-0.08},
{"i":292,"o":103.64,"h":103.86,"l":103.58,"c":103.80,"m":-0.18,"s":-0.12},
{"i":293,"o":103.80,"h":103.90,"l":103.60,"c":103.68,"m":-0.16,"s":-0.16},
{"i":294,"o":103.68,"h":104.30,"l":103.64,"c":104.20,"m":-0.13,"s":-0.20},
{"i":295,"o":104.20,"h":104.70,"l":104.10,"c":104.60,"m":-0.10,"s":-0.22},
{"i":296,"o":104.60,"h":105.40,"l":104.56,"c":105.30,"m":-0.07,"s":-0.23},
{"i":297,"o":105.30,"h":105.88,"l":105.20,"c":105.70,"m":-0.03,"s":-0.22},
{"i":298,"o":105.70,"h":105.80,"l":105.10,"c":105.20,"m":0.04,"s":-0.20},
{"i":299,"o":105.20,"h":105.50,"l":104.96,"c":105.40,"m":0.10,"s":-0.16},
{"i":300,"o":105.40,"h":105.46,"l":105.00,"c":105.10,"m":0.14,"s":-0.12},
{"i":301,"o":105.10,"h":105.30,"l":104.58,"c":104.66,"m":0.17,"s":-0.07},
{"i":302,"o":104.66,"h":104.90,"l":104.60,"c":104.84,"m":0.20,"s":-0.02},
{"i":303,"o":104.84,"h":105.00,"l":104.70,"c":104.78,"m":0.22,"s":0.03},
{"i":304,"o":104.78,"h":104.96,"l":104.70,"c":104.90,"m":0.23,"s":0.07},
{"i":305,"o":104.90,"h":105.02,"l":104.76,"c":104.82,"m":0.24,"s":0.10},
{"i":306,"o":104.82,"h":105.20,"l":104.78,"c":105.10,"m":0.25,"s":0.13},
{"i":307,"o":105.10,"h":105.34,"l":104.94,"c":105.00,"m":0.26,"s":0.15},
{"i":308,"o":105.00,"h":105.30,"l":104.92,"c":105.24,"m":0.27,"s":0.16},
{"i":309,"o":105.24,"h":105.50,"l":105.16,"c":105.44,"m":0.28,"s":0.17},
{"i":310,"o":105.44,"h":105.80,"l":105.40,"c":105.70,"m":0.29,"s":0.18},
{"i":311,"o":105.70,"h":105.96,"l":105.50,"c":105.60,"m":0.31,"s":0.19},
{"i":312,"o":105.60,"h":106.00,"l":105.56,"c":105.90,"m":0.34,"s":0.21},
{"i":313,"o":105.90,"h":106.10,"l":105.74,"c":106.00,"m":0.37,"s":0.23},
{"i":314,"o":106.00,"h":106.24,"l":105.80,"c":105.90,"m":0.40,"s":0.25},
{"i":315,"o":105.90,"h":106.40,"l":105.86,"c":106.30,"m":0.43,"s":0.27},
{"i":316,"o":106.30,"h":106.80,"l":106.20,"c":106.70,"m":0.47,"s":0.30},
{"i":317,"o":106.70,"h":107.20,"l":106.60,"c":107.10,"m":0.50,"s":0.32},
{"i":318,"o":107.10,"h":107.48,"l":106.90,"c":107.00,"m":0.53,"s":0.35},
{"i":319,"o":107.00,"h":107.30,"l":106.66,"c":106.80,"m":0.57,"s":0.38},
{"i":320,"o":106.80,"h":107.40,"l":106.70,"c":107.30,"m":0.62,"s":0.42},
{"i":321,"o":107.30,"h":107.78,"l":107.20,"c":107.60,"m":0.67,"s":0.47},
{"i":322,"o":107.60,"h":107.70,"l":107.30,"c":107.44,"m":0.72,"s":0.52},
{"i":323,"o":107.44,"h":108.00,"l":107.40,"c":107.90,"m":0.77,"s":0.57},
{"i":324,"o":107.90,"h":108.30,"l":107.80,"c":108.20,"m":0.82,"s":0.62},
{"i":325,"o":108.20,"h":108.46,"l":107.90,"c":108.00,"m":0.87,"s":0.67},
{"i":326,"o":108.00,"h":108.40,"l":107.80,"c":108.30,"m":0.90,"s":0.70},
{"i":327,"o":108.30,"h":108.34,"l":107.00,"c":107.10,"m":0.86,"s":0.72},
{"i":328,"o":107.10,"h":107.30,"l":105.72,"c":106.20,"m":0.80,"s":0.73},
{"i":329,"o":106.20,"h":107.30,"l":106.10,"c":107.20,"m":0.74,"s":0.72},
{"i":330,"o":107.20,"h":107.40,"l":106.80,"c":107.30,"m":0.68,"s":0.70},
{"i":331,"o":107.30,"h":107.54,"l":107.00,"c":107.10,"m":0.60,"s":0.66},
{"i":332,"o":107.10,"h":107.30,"l":106.70,"c":106.90,"m":0.52,"s":0.61},
{"i":333,"o":106.90,"h":107.00,"l":106.60,"c":106.47,"m":0.44,"s":0.55},
{"i":334,"o":106.471,"h":106.573,"l":106.149,"c":106.289,"m":0.30,"s":0.46}
]
},
"vconcat":[
{
 "width":1167,"height":459,
 "title":{"text":"▼ USDJPY,H1  106.471 106.573 106.149 106.289","anchor":"start","offset":-13,"dx":4},
 "layer":[
  {"data":{"name":"seps"},"mark":{"type":"rule","color":"#000","strokeDash":[3,3],"strokeWidth":1},
   "encoding":{"x":{"field":"i","type":"quantitative","scale":{"domain":[-1.08,419.5],"nice":false,"zero":false},
     "axis":{"values":[0,8,16,24,32,40,48,56,64,72,80,88,96,104,112,120,128,136,144,152,160,168,176,184,192,200,208,216,224,232,240,248,256,264,272,280,288,296,304,312,320,328,336,344,352,360,368,376,384,392,400,408,416],"labels":false,"ticks":false,"domain":false,"grid":true}}}},
  {"data":{"name":"levels"},"mark":{"type":"rule","color":"#ff2b2b","strokeWidth":1},
   "encoding":{"y":{"field":"v","type":"quantitative","scale":{"domain":[100.906,111.371],"nice":false,"zero":false},
     "axis":{"orient":"right","values":[100.975,101.485,102.555,103.57,105.13,105.655,106.195,106.705,107.215,108.265,109.853,110.365,110.875],"format":".3f","grid":true,"tickSize":3,"labelPadding":1}}}},
  {"data":{"name":"trend"},"mark":{"type":"line","color":"#ff2b2b","strokeWidth":1,"clip":true},
   "encoding":{"x":{"field":"i","type":"quantitative","scale":{"domain":[-1.08,419.5],"nice":false,"zero":false}},"y":{"field":"v","type":"quantitative","scale":{"domain":[100.906,111.371],"nice":false,"zero":false}},"detail":{"field":"id"}}},
  {"data":{"name":"ma"},"mark":{"type":"line","strokeWidth":1,"clip":true},
   "encoding":{"x":{"field":"i","type":"quantitative","scale":{"domain":[-1.08,419.5],"nice":false,"zero":false}},"y":{"field":"v","type":"quantitative","scale":{"domain":[100.906,111.371],"nice":false,"zero":false}},
     "color":{"field":"ma","type":"nominal","scale":{"domain":["g","r","b"],"range":["#1fe01f","#ff2b2b","#2f2fff"]},"legend":null}}},
  {"data":{"name":"bars"},"mark":{"type":"rule","strokeWidth":1},
   "encoding":{"x":{"field":"i","type":"quantitative","scale":{"domain":[-1.08,419.5],"nice":false,"zero":false}},"y":{"field":"l","type":"quantitative","scale":{"domain":[100.906,111.371],"nice":false,"zero":false}},"y2":{"field":"h"},
     "color":{"condition":{"test":"datum.c >= datum.o","value":"#9fb3f0"},"value":"#3d61dc"}}},
  {"data":{"name":"bars"},"mark":{"type":"rule","strokeWidth":2},
   "encoding":{"x":{"field":"i","type":"quantitative","scale":{"domain":[-1.08,419.5],"nice":false,"zero":false}},"y":{"field":"o","type":"quantitative","scale":{"domain":[100.906,111.371],"nice":false,"zero":false}},"y2":{"field":"c"},
     "color":{"condition":{"test":"datum.c >= datum.o","value":"#a9bbf2"},"value":"#3d61dc"}}},
  {"data":{"name":"levels"},"mark":{"type":"tick","orient":"horizontal","size":29,"thickness":8,"color":"#ff1a1a","clip":false,"opacity":1},
   "encoding":{"x":{"datum":425.08,"type":"quantitative","scale":{"domain":[-1.08,419.5],"nice":false,"zero":false}},"y":{"field":"v","type":"quantitative","scale":{"domain":[100.906,111.371],"nice":false,"zero":false}}}},
  {"data":{"name":"levels"},"mark":{"type":"text","color":"#ffffff","fontSize":7,"font":"Liberation Sans","clip":false,"baseline":"middle","align":"center"},
   "encoding":{"x":{"datum":425.08,"type":"quantitative","scale":{"domain":[-1.08,419.5],"nice":false,"zero":false}},"y":{"field":"v","type":"quantitative","scale":{"domain":[100.906,111.371],"nice":false,"zero":false}},"text":{"field":"v","type":"quantitative","format":".3f"}}}
 ]
},
{
 "width":1167,"height":43,
 "title":{"text":"MACD(12,26,9) 0.2283 0.4570","anchor":"start","offset":-8,"dx":4},
 "layer":[
  {"data":{"name":"seps"},"mark":{"type":"rule","color":"#000","strokeDash":[3,3],"strokeWidth":1},
   "encoding":{"x":{"field":"i","type":"quantitative","scale":{"domain":[-1.08,419.5],"nice":false,"zero":false},
     "axis":{"values":[0,8,16,24,32,40,48,56,64,72,80,88,96,104,112,120,128,136,144,152,160,168,176,184,192,200,208,216,224,232,240,248,256,264,272,280,288,296,304,312,320,328,336,344,352,360,368,376,384,392,400,408,416],
       "labelExpr":"(datum.value % 16 == 0 && datum.value <= 320) ? ['25 Feb 2020','26 Feb 00:00','26 Feb 16:00','27 Feb 08:00','28 Feb 00:00','28 Feb 16:00','2 Mar 08:00','3 Mar 00:00','3 Mar 16:00','4 Mar 08:00','5 Mar 00:00','5 Mar 16:00','6 Mar 08:00','9 Mar 00:00','9 Mar 16:00','10 Mar 08:00','11 Mar 00:00','11 Mar 16:00','12 Mar 08:00','13 Mar 00:00','13 Mar 16:00'][datum.value / 16] : ''",
       "labelAlign":"left","labelPadding":1,"ticks":false,"domain":false,"grid":true,"labelFlush":false,"labelOverlap":false}}}},
  {"data":{"name":"bars"},"mark":{"type":"rule","color":"#b9b9b9","strokeWidth":1.2},
   "encoding":{"x":{"field":"i","type":"quantitative","scale":{"domain":[-1.08,419.5],"nice":false,"zero":false}},
     "y":{"field":"m","type":"quantitative","scale":{"domain":[-0.9998,0.9054],"nice":false,"zero":false},
       "axis":{"orient":"right","values":[-0.9998,0,0.9054],"labelExpr":"datum.value == 0 ? '0.00' : '' + datum.value","grid":true,"labelFlush":true,"tickSize":3,"labelPadding":1}},
     "y2":{"datum":0}}},
  {"data":{"name":"bars"},"mark":{"type":"line","color":"#ff2020","strokeWidth":1,"strokeDash":[2,2]},
   "encoding":{"x":{"field":"i","type":"quantitative","scale":{"domain":[-1.08,419.5],"nice":false,"zero":false}},"y":{"field":"s","type":"quantitative","scale":{"domain":[-0.9998,0.9054],"nice":false,"zero":false}}}}
 ]
}
]
}
